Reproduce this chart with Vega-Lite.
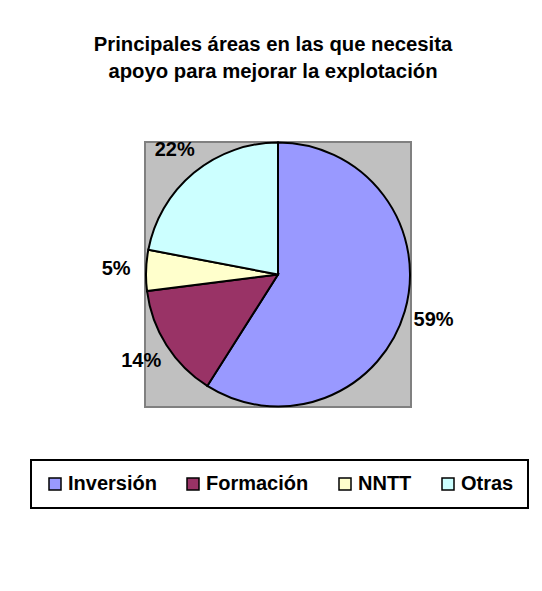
{
  "$schema": "https://vega.github.io/schema/vega-lite/v6.json",
  "width": 266,
  "height": 265,
  "autosize": "none",
  "padding": {"left": 145, "top": 142, "right": 131, "bottom": 184},
  "background": "white",
  "view": {"fill": "#c0c0c0", "stroke": "#808080", "strokeWidth": 2},
  "config": {
    "legend": {"strokeColor": "black", "strokeWidth": 2, "fillColor": "white"}
  },
  "title": {
    "text": ["Principales áreas en las que necesita", "apoyo para mejorar la explotación"],
    "font": "Liberation Sans",
    "fontSize": 20.3,
    "fontWeight": "bold",
    "color": "black",
    "lineHeight": 27,
    "anchor": "middle",
    "offset": 56,
    "dx": -5
  },
  "data": {
    "values": [
      {"area": "Inversión", "share": 0.59, "order": 1},
      {"area": "Formación", "share": 0.14, "order": 2},
      {"area": "NNTT", "share": 0.05, "order": 3},
      {"area": "Otras", "share": 0.22, "order": 4}
    ]
  },
  "encoding": {
    "theta": {"field": "share", "type": "quantitative", "stack": true},
    "order": {"field": "order", "type": "quantitative"}
  },
  "layer": [
    {
      "mark": {"type": "arc", "outerRadius": 132, "stroke": "black", "strokeWidth": 2},
      "encoding": {
        "color": {
          "field": "area",
          "type": "nominal",
          "sort": ["Inversión", "Formación", "NNTT", "Otras"],
          "scale": {
            "domain": ["Inversión", "Formación", "NNTT", "Otras"],
            "range": ["#9999FF", "#993366", "#FFFFCC", "#CCFFFF"]
          },
          "legend": {
            "orient": "none",
            "legendX": -114,
            "legendY": 318,
            "direction": "horizontal",
            "title": null,
            "padding": 14,
            "columnPadding": 26,
            "symbolType": "square",
            "symbolSize": 144,
            "symbolStrokeColor": "black",
            "symbolStrokeWidth": 1.5,
            "symbolOpacity": 1,
            "labelFont": "Liberation Sans",
            "labelFontSize": 20,
            "labelFontWeight": "bold",
            "labelColor": "black",
            "labelOffset": 3,
            "labelLimit": 200
          }
        }
      }
    },
    {
      "mark": {"type": "text", "radius": 162, "font": "Liberation Sans", "fontSize": 20, "fontWeight": "bold", "color": "black"},
      "encoding": {
        "text": {"field": "share", "type": "quantitative", "format": ".0%"}
      }
    }
  ]
}
